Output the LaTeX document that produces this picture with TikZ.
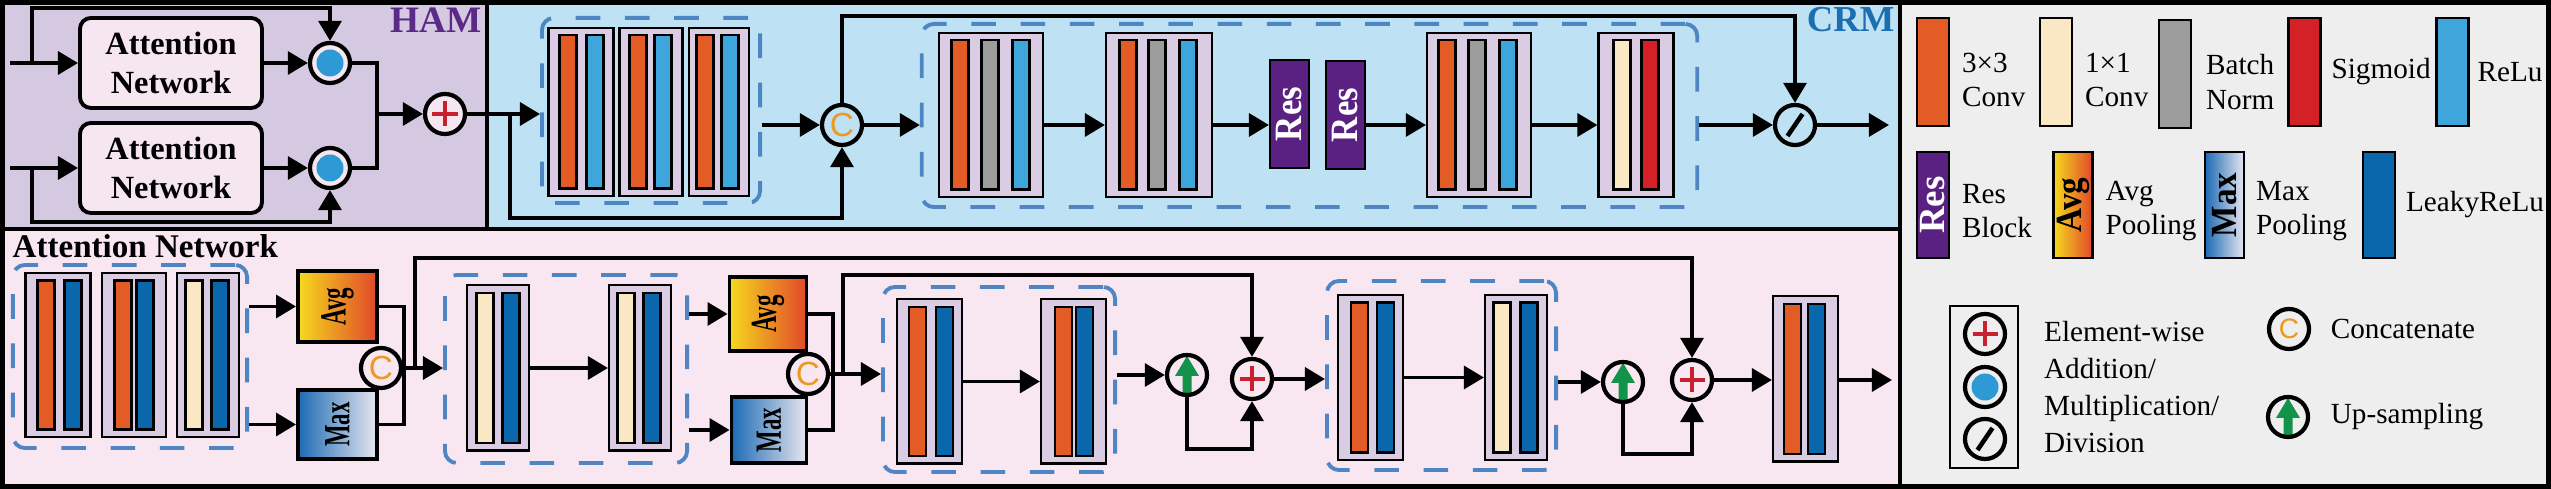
\documentclass[tikz,border=0pt]{standalone}
\usepackage{fontspec}
\setmainfont{Liberation Serif}
\newfontfamily\catfont{Liberation Sans}
\usepackage{graphicx}
\usepackage{tikz}
\usetikzlibrary{
  arrows.meta, % 箭头样式
  calc,        % 坐标计算
  positioning  % 图例文字相对定位
}

% 颜色
\definecolor{hambg}{HTML}{D5C9E1}
\definecolor{crmbg}{HTML}{BEE2F3}
\definecolor{anbg}{HTML}{F8E6F0}
\definecolor{legbg}{HTML}{EEEEEE}
\definecolor{attbg}{HTML}{F6E6EF}
\definecolor{featfill}{HTML}{D9CCE3}
\definecolor{convthree}{HTML}{E35B25}
\definecolor{convone}{HTML}{FAE8C4}
\definecolor{bngray}{HTML}{9C9C9C}
\definecolor{sigred}{HTML}{D42027}
\definecolor{relublue}{HTML}{3FA6DB}
\definecolor{leakyblue}{HTML}{0B67AC}
\definecolor{respurple}{HTML}{5A2183}
\definecolor{dashblue}{HTML}{4E86C4}
\definecolor{hamtext}{HTML}{5B2A86}
\definecolor{crmtext}{HTML}{1B6FB0}
\definecolor{catorange}{HTML}{EC9A1F}
\definecolor{plusred}{HTML}{C9202F}
\definecolor{multblue}{HTML}{2E9AD5}
\definecolor{upgreen}{HTML}{13924A}
\definecolor{avgl}{HTML}{F6D91E}
\definecolor{avgr}{HTML}{E1482A}
\definecolor{maxl}{HTML}{1C6BB4}
\definecolor{maxr}{HTML}{E8E6F0}

\tikzset{
  panel/.style={draw=black, line width=1.2pt},
  wire/.style={line width=1.1pt},
  arr/.style={wire, -{Triangle[length=5.7pt, width=6.5pt]}},
  featbox/.style={draw, line width=0.6pt, fill=featfill, inner sep=0pt},
  layer/.style={draw, line width=0.6pt, inner sep=0pt, minimum width=1.7mm},
  dblock/.style={draw=dashblue, line width=1.1pt, dash pattern=on 7pt off 7pt,
    rounded corners=1.2mm, inner sep=0pt},
  attbox/.style={draw, line width=1.1pt, rounded corners=1.1mm, fill=attbg,
    minimum width=18.2mm, minimum height=9mm, align=center,
    font=\bfseries\fontsize{9.2}{11}\selectfont},
  opc/.style={circle, draw, line width=1.2pt, minimum size=4mm, inner sep=0pt},
  addop/.style={opc, path picture={\draw[plusred, line width=1.4pt]
      (path picture bounding box.center) +(-1.25mm,0) -- +(1.25mm,0)
      +(0,-1.25mm) -- +(0,1.25mm);}},
  mulop/.style={opc, path picture={\fill[multblue]
      (path picture bounding box.center) circle (1.35mm);}},
  divop/.style={opc, path picture={\draw[line width=1.3pt]
      (path picture bounding box.center) +(-0.75mm,-1.1mm) -- +(0.75mm,1.1mm);}},
  catop/.style={opc, text=catorange, font=\catfont\fontsize{9.5}{9.5}\selectfont},
  upop/.style={opc, path picture={\fill[upgreen]
      (path picture bounding box.center) +(-0.45mm,-2.2mm) -- +(0.45mm,-2.2mm)
      -- +(0.45mm,-0.1mm) -- +(1.2mm,-0.1mm) -- +(0,1.9mm) -- +(-1.2mm,-0.1mm)
      -- +(-0.45mm,-0.1mm) -- cycle;}},
  resbox/.style={draw, line width=0.6pt, fill=respurple, text=white, inner sep=0pt,
    minimum width=3.9mm, minimum height=10.8mm, font=\bfseries\fontsize{11}{11}\selectfont},
  poolbox/.style={draw, line width=1.1pt, inner sep=0pt,
    font=\bfseries\fontsize{10.5}{10.5}\selectfont},
  legbar/.style={draw, line width=0.8pt, inner sep=0pt, minimum width=3.2mm,
    minimum height=10.8mm, font=\bfseries\fontsize{10.5}{10.5}\selectfont},
  legtext/.style={inner sep=0pt, align=left, font=\fontsize{8.3}{9.7}\selectfont},
}

% 特征块：名称、中心、宽、高、各层偏移/颜色
\newcommand{\fmap}[5]{%
  \node[featbox, minimum width={#3*0.1mm}, minimum height={#4*0.1mm}] (#1) at (#2) {};
  \foreach \dx/\col in {#5}
    \node[layer, fill=\col, minimum height={(#4-15)*0.1mm}] at ($(#1.center)+(\dx,0)$) {};
}

\begin{document}
\begin{tikzpicture}[>=Stealth, x=0.01cm, y=-0.01cm]
  \useasboundingbox (0,0) rectangle (2551,489);

  % 背景面板
  \fill[legbg] (0,0) rectangle (2551,489);
  \draw[panel, fill=hambg] (2.5,2.5) rectangle (487,229);
  \draw[panel, fill=crmbg] (487,2.5) rectangle (1900,229);
  \draw[panel, fill=anbg] (2.5,229) rectangle (1900,486.5);
  \draw[line width=1.4pt] (2.5,2.5) rectangle (2548.5,486.5);

  % 面板标题
  \node[anchor=base east, inner sep=0pt, text=hamtext,
    font=\bfseries\fontsize{10.6}{10.6}\selectfont] (hamlab) at (482,33) {HAM};
  \node[anchor=base east, inner sep=0pt, text=crmtext,
    font=\bfseries\fontsize{10.4}{10.4}\selectfont] (crmlab) at (1895,32) {CRM};
  \node[anchor=base west, inner sep=0pt,
    font=\bfseries\fontsize{9.4}{9.4}\selectfont] (anlab) at (12,258) {Attention Network};

  % HAM
  \node[attbox] (att1) at (171,63) {Attention\\Network};
  \node[attbox] (att2) at (171,168) {Attention\\Network};
  \node[mulop, fill=attbg] (m1) at (330,63) {};
  \node[mulop, fill=attbg] (m2) at (330,168) {};
  \node[addop, fill=attbg] (hadd) at (445,114) {};
  \coordinate (in1) at (10,63);
  \coordinate (in2) at (10,168);
  \coordinate (s1) at (32,63);
  \coordinate (s2) at (32,168);
  \coordinate (jm) at (377,114);
  \draw[arr] (in1) -- (att1.west);
  \draw[arr] (in2) -- (att2.west);
  \draw[arr] (s1) -- ++(0,-55) -| (m1.north);
  \draw[arr] (s2) -- ++(0,54) -| (m2.south);
  \draw[arr] (att1.east) -- (m1.west);
  \draw[arr] (att2.east) -- (m2.west);
  \draw[wire] (m1.east) -| (jm) (m2.east) -| (jm);
  \draw[arr] (jm) -- (hadd.west);

  % CRM
  \node[dblock, minimum width=21.8mm, minimum height=18.5mm] (blk1) at (651,110.5) {};
  \node[dblock, minimum width=77.5mm, minimum height=18.3mm] (blk2) at (1309.5,115.5) {};
  \fmap{fr1}{581,112}{65}{168}{-13/convthree,14/relublue}
  \fmap{fr2}{651,112}{63}{168}{-13/convthree,12/relublue}
  \fmap{fr3}{719,112}{60}{168}{-14/convthree,11/relublue}
  \fmap{fr4}{991,115}{104}{164}{-31/convthree,-1/bngray,30/relublue}
  \fmap{fr5}{1159,115}{106}{164}{-31/convthree,-2/bngray,29/relublue}
  \fmap{fr6}{1479,115}{104}{164}{-32/convthree,-2/bngray,29/relublue}
  \fmap{fr7}{1636,115}{75}{164}{-14/convone,14/sigred}
  \node[resbox] (res1) at (1289.5,114) {\rotatebox{90}{\scalebox{0.9}[1]{Res}}};
  \node[resbox] (res2) at (1345.5,115) {\rotatebox{90}{\scalebox{0.9}[1]{Res}}};
  \node[catop] (cc) at (842,125) {C};
  \node[divop] (dv) at (1795,125) {};
  \coordinate (sp) at (510,114);
  \coordinate (out1) at (1889,125);
  \draw[arr] (hadd.east) -- (hadd.east -| blk1.west);
  \draw[arr] (sp) -- ++(0,104) -| (cc.south);
  \draw[arr] (blk1.east |- cc) -- (cc.west);
  \draw[arr] (cc.north) -- ++(0,-87) -| (dv.north);
  \draw[arr] (cc.east) -- (cc.east -| blk2.west);
  \draw[arr] (fr4.east |- cc) -- (fr5.west |- cc);
  \draw[arr] (fr5.east |- cc) -- (res1.west |- cc);
  \draw[arr] (res2.east |- cc) -- (fr6.west |- cc);
  \draw[arr] (fr6.east |- cc) -- (fr7.west |- cc);
  \draw[arr] (blk2.east |- dv) -- (dv.west);
  \draw[arr] (dv.east) -- (out1);

  % Attention Network
  \node[dblock, minimum width=23.4mm, minimum height=18.3mm] (blkA) at (130,356.5) {};
  \node[dblock, minimum width=24.2mm, minimum height=18.8mm] (blkB) at (566,369) {};
  \node[dblock, minimum width=23.2mm, minimum height=18.5mm] (blkC) at (999,379.5) {};
  \node[dblock, minimum width=22.9mm, minimum height=18.9mm] (blkD) at (1441.5,375.5) {};
  \fmap{fa1}{58,355}{65}{164}{-12/convthree,15/leakyblue}
  \fmap{fa2}{134,355}{64}{164}{-11/convthree,11/leakyblue}
  \fmap{fa3}{208,355}{62}{164}{-14/convone,12/leakyblue}
  \fmap{fb1}{498,368}{62}{165}{-13/convone,13/leakyblue}
  \fmap{fb2}{640,368}{62}{165}{-14/convone,12/leakyblue}
  \fmap{fc1}{929.5,381.5}{65}{164}{-12/convthree,15/leakyblue}
  \fmap{fc2}{1073.5,381.5}{65}{164}{-10/convthree,11/leakyblue}
  \fmap{fd1}{1370.5,377.5}{65}{165}{-11/convthree,15/leakyblue}
  \fmap{fd2}{1516,377.5}{62}{165}{-14/convone,13/leakyblue}
  \fmap{fout}{1805.5,379}{65}{165}{-13/convthree,11/leakyblue}

  \node[poolbox, left color=avgl, right color=avgr, minimum width=7.9mm,
    minimum height=7.1mm] (avg1) at (337.5,306.5) {\rotatebox{90}{\scalebox{0.62}[1]{Avg}}};
  \node[poolbox, left color=maxl, right color=maxr, minimum width=7.9mm,
    minimum height=6.9mm] (max1) at (337.5,424.5) {\rotatebox{90}{\scalebox{0.62}[1]{Max}}};
  \node[poolbox, left color=avgl, right color=avgr, minimum width=7.7mm,
    minimum height=7.4mm] (avg2) at (768,314) {\rotatebox{90}{\scalebox{0.62}[1]{Avg}}};
  \node[poolbox, left color=maxl, right color=maxr, minimum width=7.5mm,
    minimum height=6.6mm] (max2) at (769,430) {\rotatebox{90}{\scalebox{0.62}[1]{Max}}};
  \node[catop] (c1) at (381,368) {C};
  \node[catop] (c2) at (808,374) {C};
  \node[upop] (up1) at (1187,375) {};
  \node[addop] (p1) at (1252,379) {};
  \node[upop] (up2) at (1623,382) {};
  \node[addop] (p2) at (1692,380) {};
  \coordinate (j1) at (404,368);
  \coordinate (k1) at (415,368);
  \coordinate (j2) at (833,374);
  \coordinate (k2) at (843,374);
  \coordinate (out2) at (1892,380);

  \draw[arr] (blkA.east |- avg1.west) -- (avg1.west);
  \draw[arr] (blkA.east |- max1.west) -- (max1.west);
  \draw[wire] (avg1.east) -| (j1) (max1.east) -| (j1) (c1.east) -- (j1);
  \draw[arr] (j1) -- (j1 -| blkB.west);
  \draw[arr] (k1) -- ++(0,-110) -| (p2.north);
  \draw[arr] (fb1.east) -- (fb2.west);
  \draw[arr] (blkB.east |- avg2.west) -- (avg2.west);
  \draw[arr] (blkB.east |- max2.west) -- (max2.west);
  \draw[wire] (avg2.east) -| (j2) (max2.east) -| (j2) (c2.east) -- (j2);
  \draw[arr] (j2) -- (j2 -| blkC.west);
  \draw[arr] (k2) -- ++(0,-99) -| (p1.north);
  \draw[arr] (fc1.east) -- (fc2.west);
  \draw[arr] (blkC.east |- up1) -- (up1.west);
  \draw[arr] (up1.south) -- ++(0,52) -| (p1.south);
  \draw[arr] (p1.east) -- (p1.east -| blkD.west);
  \draw[arr] (fd1.east) -- (fd2.west);
  \draw[arr] (blkD.east |- up2) -- (up2.west);
  \draw[arr] (up2.south) -- ++(0,50) -| (p2.south);
  \draw[arr] (p2.east) -- (p2.east -| fout.west);
  \draw[arr] (fout.east |- out2) -- (out2);

  % 图例：层
  \node[legbar, fill=convthree] (lg-c3) at (1933,72) {};
  \node[legbar, fill=convone] (lg-c1) at (2056,72) {};
  \node[legbar, fill=bngray] (lg-bn) at (2175,74) {};
  \node[legbar, fill=sigred] (lg-sig) at (2304.5,72) {};
  \node[legbar, fill=relublue] (lg-relu) at (2452.5,72) {};
  \node[legbar, fill=respurple, text=white, minimum height=10.6mm] (lg-res) at (1933,205)
    {\rotatebox{90}{Res}};
  \node[legbar, left color=avgl, right color=avgr, minimum width=3.9mm,
    minimum height=10.6mm] (lg-avg) at (2073,205) {\rotatebox{90}{\scalebox{0.9}[1]{Avg}}};
  \node[legbar, left color=maxl, right color=maxr, minimum width=3.9mm,
    minimum height=10.6mm] (lg-max) at (2224.5,205) {\rotatebox{90}{\scalebox{0.9}[1]{Max}}};
  \node[legbar, fill=leakyblue, minimum height=10.6mm] (lg-leaky) at (2379,205) {};
  \node[legtext, right=1.1mm of lg-c3, yshift=-0.8mm] {3×3\\Conv};
  \node[legtext, right=1.1mm of lg-c1, yshift=-0.8mm] {1×1\\Conv};
  \node[legtext, right=1.3mm of lg-bn, yshift=-0.8mm] {Batch\\Norm};
  \node[legtext, right=0.9mm of lg-sig] {Sigmoid};
  \node[legtext, right=0.7mm of lg-relu] {ReLu};
  \node[legtext, right=1.1mm of lg-res, yshift=-0.6mm] {Res\\Block};
  \node[legtext, right=1.1mm of lg-avg, yshift=-0.6mm] {Avg\\Pooling};
  \node[legtext, right=1.0mm of lg-max, yshift=-0.6mm] {Max\\Pooling};
  \node[legtext, right=0.9mm of lg-leaky] {LeakyReLu};

  % 图例：运算符
  \node[draw, line width=0.8pt, inner sep=0pt, minimum width=6.8mm,
    minimum height=16.2mm] (symbox) at (1984,387) {};
  \node[addop] (lg-add) at (1985,334) {};
  \node[mulop] (lg-mul) at (1985,387) {};
  \node[divop] (lg-div) at (1985,439) {};
  \node[legtext, right=2.4mm of symbox, font=\fontsize{8.3}{10.5}\selectfont]
    {Element-wise\\Addition/\\Multiplication/\\Division};
  \node[catop, font=\catfont\fontsize{8}{8}\selectfont] (lg-cat) at (2289,329) {C};
  \node[legtext, right=1.9mm of lg-cat] {Concatenate};
  \node[upop] (lg-up) at (2288,417) {};
  \node[legtext, right=2mm of lg-up] {Up-sampling};
\end{tikzpicture}
\end{document}
